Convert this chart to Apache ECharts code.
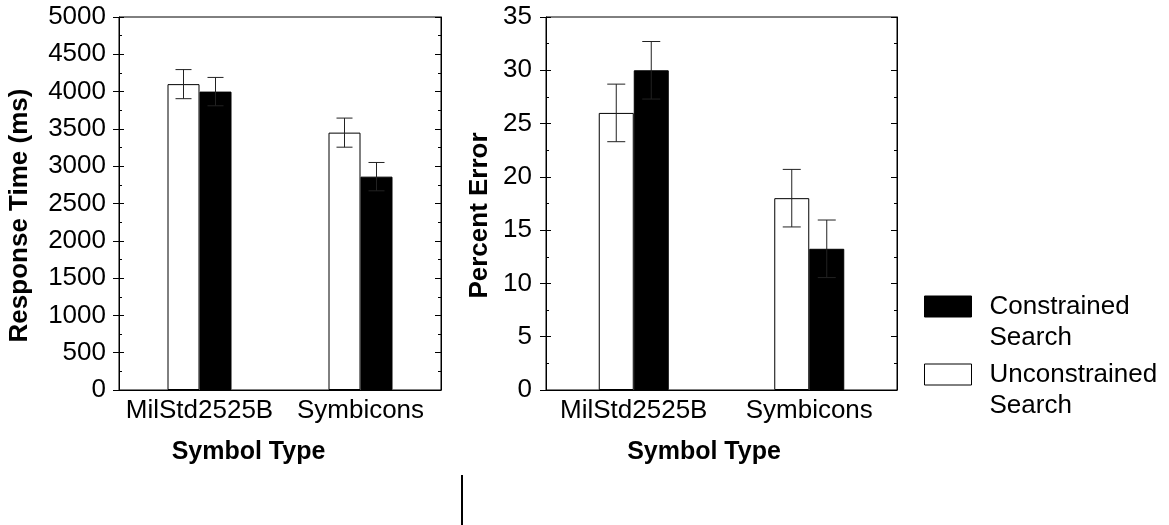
<!DOCTYPE html>
<html>
<head>
<meta charset="utf-8">
<script src="https://cdn.jsdelivr.net/npm/echarts@6/dist/echarts.min.js"></script>
<style>html,body{margin:0;padding:0;background:#fff;}#chart{width:1169px;height:525px;}</style>
</head>
<body>
<div id="chart"></div>
<script>
// ---- data ----
var categories = ['MilStd2525B', 'Symbicons'];
var seriesNames = ['Unconstrained Search', 'Constrained Search'];
var legendOrder = ['Constrained Search', 'Unconstrained Search'];

var rtUnconstrained = [4100, 3450];
var rtUnconstrainedErr = [195, 195];
var rtConstrained = [4000, 2860];
var rtConstrainedErr = [190, 190];

var peUnconstrained = [26, 18];
var peUnconstrainedErr = [2.7, 2.7];
var peConstrained = [30, 13.25];
var peConstrainedErr = [2.7, 2.7];

var rtTicks = {min: 0, max: 5000, interval: 500};
var peTicks = {min: 0, max: 35, interval: 5};

var yTitles = ['Response Time (ms)', 'Percent Error'];
var xTitle = 'Symbol Type';

// ---- styles ----
var FONT = '"Liberation Sans", Arial, sans-serif';
var BW = [32, 35];      // bar widths per grid
var CAP = [8, 9];       // half cap widths per grid

var chart = echarts.init(document.getElementById('chart'), null, {renderer: 'canvas'});

function errorSeries(gridIdx, values, errs, side, name) {
  var data = values.map(function (v, i) { return [i, v, errs[i]]; });
  return {
    type: 'custom',
    name: name,
    xAxisIndex: gridIdx,
    yAxisIndex: gridIdx * 3,
    z: 10,
    silent: true,
    data: data,
    renderItem: function (params, api) {
      var i = api.value(0), v = api.value(1), e = api.value(2);
      var top = api.coord([i, v + e]);
      var bot = api.coord([i, v - e]);
      var x = top[0] + side * BW[gridIdx] / 2;
      var c = CAP[gridIdx];
      var st = {stroke: '#222', lineWidth: 1};
      return {
        type: 'group',
        children: [
          {type: 'line', shape: {x1: x, y1: top[1], x2: x, y2: bot[1]}, style: st},
          {type: 'line', shape: {x1: x - c, y1: top[1], x2: x + c, y2: top[1]}, style: st},
          {type: 'line', shape: {x1: x - c, y1: bot[1], x2: x + c, y2: bot[1]}, style: st}
        ]
      };
    }
  };
}

function yAxesFor(gridIdx, sc, title, nameGap, labelMargin) {
  var base = {type: 'value', gridIndex: gridIdx, min: sc.min, max: sc.max, interval: sc.interval,
    splitLine: {show: false}};
  return [
    Object.assign({}, base, {
      position: 'left',
      name: title, nameLocation: 'middle', nameGap: nameGap, nameRotate: 90,
      nameTextStyle: {fontFamily: FONT, fontSize: 26, fontWeight: 'bold', color: '#000',
        padding: [0, 24, 0, 0]},
      axisLine: {show: true, lineStyle: {color: '#000', width: 1}},
      axisTick: {show: true, inside: false, length: 6, lineStyle: {color: '#000'}},
      axisLabel: {show: true, margin: labelMargin, fontFamily: FONT, fontSize: 26, color: '#000',
        formatter: function (v) { return String(v); }}
    }),
    Object.assign({}, base, {
      position: 'left',
      axisLine: {show: false},
      axisTick: {show: true, inside: true, length: 5, lineStyle: {color: '#000'}},
      minorTick: {show: true, splitNumber: 2, length: 3, lineStyle: {color: '#000'}},
      axisLabel: {show: false}
    }),
    Object.assign({}, base, {
      position: 'right',
      axisLine: {show: true, lineStyle: {color: '#000', width: 1}},
      axisTick: {show: true, inside: true, length: 6, lineStyle: {color: '#000'}},
      minorTick: {show: true, splitNumber: 2, length: 3, lineStyle: {color: '#000'}},
      axisLabel: {show: false}
    })
  ];
}

function xAxisFor(gridIdx, shiftPad) {
  return {
    type: 'category', gridIndex: gridIdx, data: categories,
    axisLine: {show: true, lineStyle: {color: '#000', width: 1}},
    axisTick: {show: false},
    axisLabel: {interval: 0, margin: 8, fontFamily: FONT, fontSize: 26, color: '#000'},
    name: xTitle, nameLocation: 'middle', nameGap: 50,
    nameTextStyle: {fontFamily: FONT, fontSize: 25, fontWeight: 'bold', color: '#000',
      padding: [0, shiftPad, 0, 0]}
  };
}

function barSeries(gridIdx, name, values, color) {
  return {
    type: 'bar', name: name, xAxisIndex: gridIdx, yAxisIndex: gridIdx * 3,
    data: values, barWidth: BW[gridIdx], barGap: '0%',
    itemStyle: {color: color, borderColor: '#000', borderWidth: 1},
    emphasis: {disabled: true}
  };
}

function legendFor(name, top) {
  return {
    data: [name], orient: 'vertical', left: 924, top: top, padding: 0,
    itemWidth: 47, itemHeight: 21, icon: 'rect', selectedMode: false,
    itemStyle: {borderWidth: 1, borderColor: '#000'},
    formatter: function (n) { return '\n' + n.replace(' ', '\n'); },
    textStyle: {fontFamily: FONT, fontSize: 26, color: '#000', lineHeight: 31,
      padding: [0, 0, 0, 13]}
  };
}

var option = {
  backgroundColor: '#fff',
  animation: false,
  grid: [
    {left: 119, top: 17, width: 322, height: 373, show: true, borderColor: '#000', borderWidth: 1, backgroundColor: 'transparent'},
    {left: 546, top: 17, width: 351, height: 373, show: true, borderColor: '#000', borderWidth: 1, backgroundColor: 'transparent'}
  ],
  legend: [legendFor(legendOrder[0], 260), legendFor(legendOrder[1], 328)],
  xAxis: [xAxisFor(0, 63), xAxisFor(1, 35)],
  yAxis: [].concat(yAxesFor(0, rtTicks, yTitles[0], 86, 13), yAxesFor(1, peTicks, yTitles[1], 53, 14)),
  series: [
    barSeries(0, seriesNames[0], rtUnconstrained, '#fff'),
    barSeries(0, seriesNames[1], rtConstrained, '#000'),
    barSeries(1, seriesNames[0], peUnconstrained, '#fff'),
    barSeries(1, seriesNames[1], peConstrained, '#000'),
    errorSeries(0, rtUnconstrained, rtUnconstrainedErr, -1, 'errA'),
    errorSeries(0, rtConstrained, rtConstrainedErr, 1, 'errB'),
    errorSeries(1, peUnconstrained, peUnconstrainedErr, -1, 'errC'),
    errorSeries(1, peConstrained, peConstrainedErr, 1, 'errD')
  ],
  graphic: [
    {type: 'line', shape: {x1: 462, y1: 475, x2: 462, y2: 525}, style: {stroke: '#000', lineWidth: 2}}
  ]
};
chart.setOption(option);
</script>
</body>
</html>
